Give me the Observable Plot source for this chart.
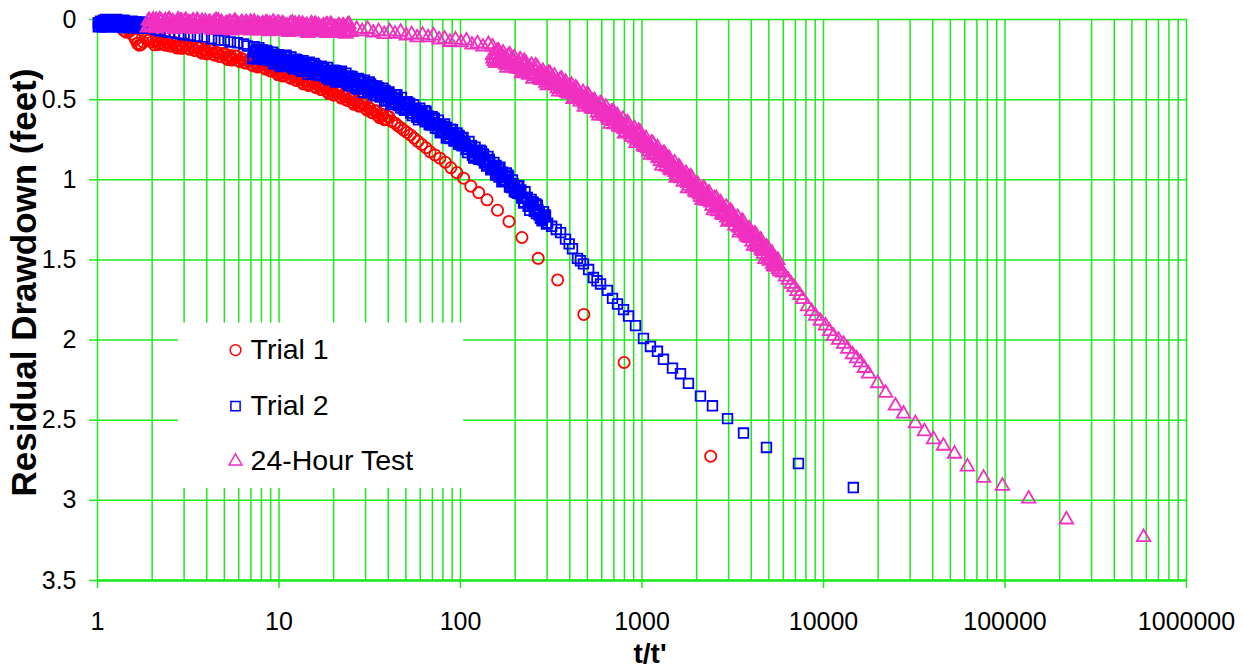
<!DOCTYPE html>
<html><head><meta charset="utf-8">
<script src="https://cdn.jsdelivr.net/npm/d3@7"></script>
<script src="https://cdn.jsdelivr.net/npm/@observablehq/plot@0.6"></script>
<style>body{margin:0;background:#fff}</style>
</head><body><div id="chart"></div>
<script>
// Trial 1: [t/t', residual drawdown (ft)]
const trial1 = [
[1.4,0.07],[1.45,0.08],[1.5,0.075],[1.55,0.09],[1.6,0.11],[1.62,0.125],[1.66,0.15],[1.7,0.16],[1.74,0.155],[1.78,0.14],[1.85,0.12],[1.9,0.13],[1.95,0.12],[2.0,0.14],
[2.06,0.158],[2.13,0.128],[2.2,0.148],[2.28,0.127],[2.36,0.16],[2.45,0.145],[2.55,0.165],[2.65,0.142],[2.75,0.178],[2.86,0.152],[2.97,0.173],[3.1,0.153],[3.22,0.186],[3.35,0.172],[3.48,0.193],[3.62,0.172],[3.77,0.21],[3.92,0.185],[4.08,0.208],[4.25,0.189],[4.42,0.223],[4.6,0.21],[4.8,0.231],[5.0,0.211],[5.2,0.249],[5.4,0.224],[5.6,0.246],[5.85,0.228],[6.1,0.263],[6.35,0.25],[6.6,0.271],[6.9,0.252],[7.2,0.29],[7.5,0.266],[7.8,0.29],[8.1,0.272],[8.45,0.31],[8.8,0.299],[9.15,0.322],[9.5,0.304],[9.9,0.345],[10.3,0.322],[10.7,0.347],[11.2,0.331],[11.6,0.367],[12.1,0.357],[12.6,0.38],[13.1,0.362],[13.6,0.402],[14.2,0.38],[14.8,0.405],[15.4,0.388],[16,0.425],[16.7,0.415],[17.4,0.438],[18.1,0.421],[18.8,0.462],[19.6,0.44],[20.4,0.467],[21.2,0.451],[22.1,0.49],[23,0.48],[23.9,0.504],[24.9,0.488],[25.9,0.529],[27,0.508],[28.1,0.537],[29.3,0.524],[30.5,0.564],[31.7,0.556],[33,0.583],[34.4,0.569],[35.8,0.612],[37.3,0.593],[38.8,0.621],[40.4,0.607],
[2.095,0.136],[2.165,0.156],[2.24,0.129],[2.32,0.153],[2.405,0.14],[2.5,0.165],[2.6,0.148],[2.7,0.169],[2.805,0.158],[2.915,0.181],[3.035,0.154],[3.16,0.179],[3.285,0.166],[3.415,0.193],[3.55,0.177],[3.695,0.2],[3.845,0.191],[4.0,0.215],[4.165,0.19],[4.335,0.215],[4.51,0.204],[4.7,0.231],[4.9,0.216],[5.1,0.239],[5.3,0.23],[5.5,0.253],[5.72,0.228],[5.97,0.255],[6.22,0.244],[6.47,0.271],[6.75,0.256],[7.05,0.28],[7.35,0.271],[7.65,0.296],[7.95,0.272],[8.27,0.3],[8.62,0.292],[8.97,0.321],[9.32,0.308],[9.7,0.333],[10.1,0.327],[10.5,0.353],[10.95,0.33],[11.4,0.358],[11.85,0.349],[12.35,0.379],[12.85,0.366],[13.35,0.391],[13.9,0.384],[14.5,0.411],[15.1,0.388],[15.7,0.416],[16.35,0.407],[17.05,0.437],[17.75,0.424],[18.45,0.45],[19.2,0.444],[20,0.472],[20.8,0.45],[21.65,0.48],[22.55,0.472],[23.45,0.502],[24.4,0.491],[25.4,0.517],[26.45,0.512],[27.55,0.541],[28.7,0.522],[29.9,0.553],[31.1,0.547],[32.35,0.58],[33.7,0.571],[35.1,0.599],[36.55,0.596],[38.05,0.625],[39.6,0.605],
[41.8,0.635],[43.4,0.645],[45,0.66],[46.8,0.675],[48.7,0.69],[50.7,0.705],[53,0.72],[55.5,0.74],[58.2,0.76],[61.2,0.78],[64.5,0.8],[68,0.825],[72.3,0.845],[77,0.865],[82.5,0.89],[88.5,0.925],[95.5,0.955],[104,0.99],[114,1.04],[126,1.08],[140,1.125],[160,1.19],[185,1.26],[218,1.36],[268,1.49],[343,1.625],[478,1.84],[797,2.14],[2390,2.725]
];

// Trial 2
const trial2 = [
[1.01,0.02],[1.02,0.04],[1.04,0.01],[1.06,0.03],[1.08,0.005],[1.1,0.045],[1.12,0.02],[1.15,0.035],[1.18,0.01],[1.2,0.04],[1.23,0.02],[1.26,0.045],[1.29,0.015],[1.32,0.035],[1.35,0.025],[1.38,0.05],[1.42,0.02],[1.45,0.04],[1.49,0.03],[1.53,0.05],[1.57,0.025],[1.61,0.045],[1.65,0.035],[1.7,0.05],[1.75,0.03],[1.8,0.055],[1.85,0.04],[1.9,0.055],
[1.01,0.045],[1.03,0.025],[1.05,0.045],[1.07,0.015],[1.09,0.035],[1.11,0.0],[1.135,0.03],[1.165,0.045],[1.19,0.025],[1.215,0.005],[1.245,0.03],[1.275,0.0],[1.305,0.045],[1.335,0.01],[1.365,0.04],[1.4,0.005],[1.435,0.05],[1.47,0.015],[1.51,0.04],[1.55,0.01],[1.59,0.05],[1.63,0.015],[1.675,0.05],[1.725,0.015],[1.775,0.04],[1.825,0.02],[1.875,0.045],
[2.0,0.05],[2.1,0.065],[2.2,0.07],[2.35,0.075],[2.5,0.08],[2.65,0.085],[2.8,0.09],[3.0,0.095],
[3.25,0.1],[3.55,0.105],[3.88,0.11],[4.25,0.12],[4.64,0.128],[5.0,0.13],[5.4,0.14],[5.9,0.145],[6.4,0.153],[6.7,0.165],
[7.2,0.235],[7.5,0.19],[7.8,0.226],[8.1,0.19],[8.4,0.245],[8.7,0.22],[9.1,0.251],[9.4,0.216],[9.8,0.277],[10.2,0.233],[10.6,0.268],[11,0.232],[11.5,0.288],[11.9,0.263],[12.4,0.293],[12.9,0.259],[13.4,0.319],[13.9,0.275],[14.5,0.311],[15.1,0.278],[15.7,0.334],[16.3,0.309],[16.9,0.338],[17.6,0.304],[18.3,0.364],[19,0.319],[19.8,0.354],[20.6,0.32],[21.4,0.377],[22.2,0.353],[23.1,0.385],[24,0.352],[25,0.414],[26,0.372],[27,0.409],[28.1,0.377],[29.2,0.434],[30.4,0.412],[31.6,0.445],[32.8,0.413],[34.1,0.476],[35.5,0.435],[36.9,0.473],[38.4,0.442],[39.9,0.5],[41.5,0.481],[43.2,0.516],[44.9,0.486],[46.7,0.551],[48.6,0.512],[50.5,0.552],[52.5,0.523],[54.6,0.584],[56.8,0.565],[59,0.601],[61.4,0.572],[63.9,0.639],[66.4,0.601],[69,0.644],[71.8,0.617],[74.7,0.68],[77.7,0.662],[80.8,0.701],[84,0.674],[87.4,0.743],[90.9,0.707],[94.5,0.75],[98.3,0.724],[102,0.788],[106,0.771],[110,0.81],[115,0.787],[119,0.855],[124,0.819],[129,0.865],[134,0.84],[140,0.909],[145,0.893],[151,0.935],[157,0.911],[163,0.983],[170,0.953],[177,1.003],[184,0.981],[191,1.049],[199,1.039],[207,1.084],[215,1.063],[224,1.14],[233,1.11],[242,1.161],[252,1.141],[262,1.211],[272,1.201],[283,1.246],[294,1.225],
[7.35,0.203],[7.65,0.238],[7.95,0.193],[8.25,0.228],[8.55,0.213],[8.9,0.253],[9.25,0.229],[9.6,0.256],[10,0.245],[10.4,0.281],[10.8,0.235],[11.25,0.27],[11.7,0.256],[12.15,0.296],[12.65,0.271],[13.15,0.299],[13.65,0.287],[14.2,0.323],[14.8,0.28],[15.4,0.316],[16,0.302],[16.6,0.341],[17.25,0.316],[17.95,0.344],[18.65,0.332],[19.4,0.367],[20.2,0.322],[21,0.359],[21.8,0.345],[22.65,0.387],[23.55,0.364],[24.5,0.393],[25.5,0.383],[26.5,0.421],[27.55,0.378],[28.65,0.416],[29.8,0.403],[31,0.446],[32.2,0.424],[33.45,0.454],[34.8,0.446],[36.2,0.484],[37.65,0.443],[39.15,0.481],[40.7,0.471],[42.35,0.516],[44.05,0.496],[45.8,0.528],[47.65,0.522],[49.55,0.562],[51.5,0.523],[53.55,0.564],[55.7,0.555],[57.9,0.601],[60.2,0.582],[62.65,0.615],[65.15,0.61],[67.7,0.653],[70.4,0.616],[73.25,0.659],[76.2,0.651],[79.25,0.699],[82.4,0.683],[85.7,0.718],[89.15,0.715],[92.7,0.759],[96.4,0.722],[100.1,0.766],[104,0.76],[108,0.808],[112.5,0.794],[117,0.831],[121.5,0.827],[126.5,0.872],[131.5,0.838],[137,0.885],[142.5,0.881],[148,0.932],[154,0.918],[160,0.957],[166.5,0.958],[173.5,1.008],[180.5,0.977],[187.5,1.025],[195,1.024],[203,1.079],[211,1.069],[219.5,1.111],[228.5,1.115],[237.5,1.166],[247,1.136],[257,1.186],[267,1.186],[277.5,1.241],[288.5,1.231],
[7.29,0.17],[7.59,0.245],[7.9,0.188],[8.2,0.25],[8.5,0.193],[8.8,0.256],[9.21,0.204],[9.51,0.276],[9.92,0.219],[10.32,0.283],[10.73,0.226],[11.13,0.288],[11.64,0.233],[12.04,0.308],[12.55,0.25],[13.05,0.314],[13.56,0.257],[14.07,0.321],[14.67,0.266],[15.28,0.343],[15.89,0.286],[16.5,0.349],[17.1,0.291],[17.81,0.355],[18.52,0.299],[19.23,0.374],[20.04,0.316],[20.85,0.38],[21.66,0.325],[22.47,0.389],[23.38,0.335],[24.29,0.412],[25.3,0.356],[26.31,0.422],[27.32,0.367],[28.44,0.433],[29.55,0.379],[30.76,0.457],[31.98,0.402],[33.19,0.468],[34.51,0.414],[35.93,0.481],[37.34,0.428],[38.86,0.507],[40.38,0.452],[42,0.521],[43.72,0.469],[45.44,0.537],[47.26,0.486],[49.18,0.567],[51.11,0.514],[53.13,0.583],[55.26,0.532],[57.48,0.61],[59.71,0.554],[62.14,0.623],[64.67,0.574],[67.2,0.656],[69.83,0.606],[72.66,0.677],[75.6,0.628],[78.63,0.698],[81.77,0.651],[85,0.734],[88.45,0.685],[91.99,0.757],[95.63,0.708],[99.48,0.78],[103.2,0.736],[107.3,0.811],[111.3,0.76],[116.4,0.847],[120.4,0.797],[125.5,0.869],[130.5,0.823],[135.6,0.896],[141.7,0.854],[146.7,0.938],[152.8,0.892],[158.9,0.966],[165,0.921],[172,0.999],[179,0.958],[186.2,1.046],[193.3,1.001],[201.4,1.075],[209.5,1.037],[217.6,1.114],[226.7,1.075],[235.8,1.165],[244.9,1.123],[255,1.197],[265.1,1.159],[275.3,1.237],[286.4,1.199],[297.5,1.276],
[7.16,0.245],[7.46,0.202],[7.75,0.176],[8.05,0.228],[8.35,0.25],[8.65,0.2],[9.05,0.236],[9.34,0.276],[9.74,0.227],[10.14,0.293],[10.54,0.25],[10.93,0.222],[11.43,0.276],[11.83,0.298],[12.33,0.248],[12.82,0.284],[13.32,0.324],[13.82,0.275],[14.41,0.341],[15.01,0.3],[15.6,0.274],[16.2,0.327],[16.8,0.348],[17.49,0.299],[18.19,0.334],[18.89,0.374],[19.68,0.324],[20.48,0.39],[21.27,0.349],[22.07,0.323],[22.96,0.378],[23.86,0.402],[24.85,0.354],[25.84,0.392],[26.84,0.434],[27.93,0.387],[29.02,0.454],[30.22,0.414],[31.41,0.39],[32.6,0.446],[33.9,0.471],[35.29,0.425],[36.68,0.463],[38.17,0.507],[39.66,0.46],[41.25,0.531],[42.94,0.493],[44.63,0.471],[46.42,0.529],[48.31,0.557],[50.2,0.512],[52.19,0.553],[54.27,0.599],[56.46,0.555],[58.65,0.626],[61.03,0.589],[63.52,0.569],[66,0.629],[68.59,0.659],[71.37,0.617],[74.25,0.66],[77.23,0.707],[80.32,0.666],[83.5,0.739],[86.88,0.705],[90.35,0.687],[93.93,0.748],[97.71,0.779],[101.4,0.738],[105.4,0.781],[109.3,0.83],[114.3,0.792],[118.3,0.865],[123.3,0.831],[128.2,0.815],[133.2,0.878],[139.2,0.914],[144.1,0.873],[150.1,0.92],[156.1,0.971],[162,0.933],[169,1.013],[176,0.985],[182.9,0.971],[189.9,1.037],[197.8,1.074],[205.8,1.039],[213.7,1.088],[222.7,1.145],[231.6,1.11],[240.5,1.191],[250.5,1.163],[260.4,1.151],[270.4,1.219],[281.3,1.256],[292.2,1.22],
[302,1.27],[318,1.29],[337,1.31],[356,1.33],[379,1.37],[397,1.4],[414,1.43],[441,1.49],[458,1.505],[476,1.525],[508,1.56],[540,1.61],[565,1.63],[591,1.65],[645,1.69],[688,1.74],[733,1.775],[791,1.81],[843,1.85],[921,1.91],[1019,1.99],[1113,2.04],[1217,2.07],[1313,2.12],[1472,2.175],[1630,2.21],[1803,2.27],[2100,2.35],[2445,2.41],[2960,2.49],[3625,2.58],[4850,2.67],[7280,2.77],[14600,2.92]
];

// 24-Hour Test
const test24 = [
[1.88,0.051],[1.93,0.006],[1.98,0.036],[2.03,0.001],[2.08,0.044],[2.13,0.018],[2.19,0.046],[2.25,0.011],[2.31,0.051],[2.37,0.006],[2.43,0.036],[2.49,0.001],[2.56,0.048],[2.63,0.022],[2.7,0.05],[2.77,0.015],[2.84,0.055],[2.91,0.01],[2.99,0.04],[3.07,0.005],[3.15,0.048],[3.23,0.022],[3.31,0.05],[3.4,0.015],[3.49,0.055],[3.58,0.015],[3.67,0.045],[3.77,0.01],[3.87,0.053],[3.97,0.027],[4.07,0.055],[4.18,0.02],[4.29,0.06],[4.4,0.015],[4.51,0.045],[4.63,0.01],[4.75,0.053],[4.87,0.027],[5.0,0.06],[5.13,0.025],[5.26,0.065],[5.4,0.02],[5.54,0.05],[5.68,0.015],[5.83,0.058],[5.98,0.032],[6.14,0.06],[6.3,0.025],[6.46,0.065],[6.63,0.02],[6.8,0.05],[6.98,0.015],[7.16,0.063],[7.35,0.037],[7.54,0.065],[7.73,0.03],[7.93,0.07],[8.14,0.025],[8.35,0.055],[8.57,0.02],[8.79,0.063],[9.02,0.037],[9.25,0.065],[9.49,0.03],[9.74,0.07],[9.99,0.025],[10.25,0.06],[10.5,0.025],[10.8,0.068],[11.1,0.042],[11.4,0.07],[11.7,0.035],[12,0.075],[12.3,0.03],[12.6,0.06],[12.9,0.025],[13.3,0.068],[13.6,0.042],[14,0.075],[14.3,0.04],[14.7,0.08],[15.1,0.035],[15.5,0.065],[15.9,0.03],[16.3,0.073],[16.7,0.047],[17.1,0.075],[17.6,0.04],[18,0.08],[18.5,0.035],[18.9,0.065],[19.5,0.035],[20,0.078],[20.5,0.052],[21,0.08],[21.6,0.045],[22.1,0.085],[22.7,0.04],[23.3,0.07],[23.9,0.035],[24.5,0.078],
[1.905,0.008],[1.955,0.046],[2.005,0.016],[2.055,0.041],[2.105,0.004],[2.16,0.034],[2.22,0.008],[2.28,0.046],[2.34,0.016],[2.4,0.041],[2.46,0.004],[2.525,0.038],[2.595,0.012],[2.665,0.05],[2.735,0.02],[2.805,0.045],[2.875,0.008],[2.95,0.038],[3.03,0.012],[3.11,0.05],[3.19,0.02],[3.27,0.045],[3.355,0.008],[3.445,0.038],[3.535,0.017],[3.625,0.055],[3.72,0.025],[3.82,0.05],[3.92,0.013],[4.02,0.043],[4.125,0.017],[4.235,0.055],[4.345,0.025],[4.455,0.05],[4.57,0.013],[4.69,0.043],[4.81,0.017],[4.935,0.055],[5.065,0.03],[5.195,0.055],[5.33,0.018],[5.47,0.048],[5.61,0.022],[5.755,0.06],[5.905,0.03],[6.06,0.055],[6.22,0.018],[6.38,0.048],[6.545,0.022],[6.715,0.06],[6.89,0.03],[7.07,0.06],[7.255,0.023],[7.445,0.053],[7.635,0.027],[7.83,0.065],[8.035,0.035],[8.245,0.06],[8.46,0.023],[8.68,0.053],[8.905,0.027],[9.135,0.065],[9.37,0.035],[9.615,0.06],[9.865,0.023],[10.12,0.058],[10.37,0.032],[10.65,0.07],[10.95,0.04],[11.25,0.065],[11.55,0.028],[11.85,0.058],[12.15,0.032],[12.45,0.07],[12.75,0.04],[13.1,0.065],[13.45,0.028],[13.8,0.058],[14.15,0.037],[14.5,0.075],[14.9,0.045],[15.3,0.07],[15.7,0.033],[16.1,0.063],[16.5,0.037],[16.9,0.075],[17.35,0.045],[17.8,0.07],[18.25,0.033],[18.7,0.063],[19.2,0.042],[19.75,0.08],[20.25,0.05],[20.75,0.075],[21.3,0.038],[21.85,0.068],[22.4,0.042],[23,0.08],[23.6,0.05],[24.2,0.075],
[1.92,0.036],[2.0,0.016],[2.1,0.056],[2.2,0.0],[2.3,0.026],[2.41,0.036],[2.53,0.02],[2.65,0.06],[2.78,0.0],[2.92,0.03],[3.06,0.04],[3.21,0.02],[3.37,0.06],[3.54,0.005],[3.71,0.035],[3.9,0.045],[4.09,0.025],[4.29,0.065],[4.5,0.005],[4.72,0.035],[4.96,0.045],[5.2,0.03],[5.46,0.07],[5.73,0.01],[6.02,0.04],[6.32,0.05],[6.63,0.03],[6.96,0.07],[7.3,0.015],[7.66,0.045],[8.04,0.055],[8.44,0.035],[8.86,0.075],[9.3,0.015],[9.76,0.045],[10.24,0.06],[10.75,0.04],[11.28,0.08],[11.84,0.02],[12.43,0.05],[13.05,0.06],[13.7,0.04],[14.38,0.085],[15.1,0.025],[15.85,0.055],[16.64,0.065],[17.47,0.045],[18.34,0.085],[19.25,0.03],[20.21,0.06],[21.22,0.07],[22.28,0.05],[23.39,0.09],[24.3,0.03],
[25,0.077],[26.8,0.059],[28.7,0.074],[30.8,0.06],[33,0.083],[35.4,0.074],[38,0.092],[40.7,0.075],[43.6,0.09],[46.8,0.078],[50.2,0.101],[53.8,0.093],[57.7,0.112],[61.8,0.096],[66.3,0.112],[71,0.101],[76.2,0.126],[81.7,0.12],[87.5,0.141],[93.8,0.126],[100.6,0.144],[107.8,0.133],[115.6,0.158],[124,0.15],[132.9,0.17],[142.5,0.155],[150,0.17],
[151,0.244],[157,0.216],[163,0.246],[169,0.224],[175,0.263],[181,0.251],[188,0.28],[195,0.261],[202,0.298],[210,0.271],[218,0.302],[226,0.282],[234,0.322],[243,0.312],[252,0.342],[261,0.324],[271,0.363],[281,0.337],[291,0.368],[302,0.349],[313,0.39],[325,0.381],[337,0.413],[349,0.396],[362,0.435],[375,0.409],[389,0.442],[404,0.424],[419,0.467],[434,0.461],[450,0.493],[467,0.478],[484,0.52],[502,0.496],[521,0.531],[540,0.514],[560,0.558],[581,0.552],[602,0.586],[625,0.572],[648,0.615],[672,0.592],[697,0.627],[722,0.612],[749,0.656],[777,0.651],[806,0.686],[836,0.675],[867,0.719],[899,0.699],[932,0.735],[966,0.721],[1002,0.768],[1039,0.766],[1078,0.804],[1118,0.793],[1159,0.839],[1202,0.82],[1247,0.859],[1293,0.847],[1341,0.894],[1390,0.892],[1442,0.93],[1495,0.92],[1551,0.966],[1608,0.946],[1668,0.985],[1729,0.973],[1793,1.021],[1860,1.019],[1929,1.056],[2000,1.046],[2074,1.091],[2151,1.071],[2231,1.11],[2313,1.096],[2399,1.143],[2488,1.14],[2580,1.177],[2675,1.166],[2774,1.211],[2877,1.191],[2984,1.229],[3094,1.216],[3209,1.263],[3328,1.262],[3451,1.301],[3579,1.292],[3711,1.337],[3849,1.319],[3991,1.359],[4139,1.351],[4292,1.403],[4451,1.404],[4616,1.446],[4787,1.44],[4964,1.49],[5148,1.477],[5339,1.522],[5536,1.517],[5741,1.572],
[154,0.223],[160,0.257],[166,0.221],[172,0.258],[178,0.239],[184.5,0.279],[191.5,0.256],[198.5,0.289],[206,0.277],[214,0.312],[222,0.278],[230,0.316],[238.5,0.299],[247.5,0.34],[256.5,0.318],[266,0.353],[276,0.343],[286,0.378],[296.5,0.345],[307.5,0.384],[319,0.368],[331,0.41],[343,0.39],[355.5,0.425],[368.5,0.415],[382,0.451],[396.5,0.419],[411.5,0.46],[426.5,0.446],[442,0.49],[458.5,0.471],[475.5,0.508],[493,0.501],[511.5,0.539],[530.5,0.509],[550,0.55],[570.5,0.537],[591.5,0.582],[613.5,0.564],[636.5,0.603],[660,0.596],[684.5,0.635],[709.5,0.606],[735.5,0.648],[763,0.636],[791.5,0.682],[821,0.666],[851.5,0.706],[883,0.702],[915.5,0.743],[949,0.714],[984,0.759],[1020,0.749],[1058,0.798],[1098,0.784],[1138,0.825],[1180,0.822],[1224,0.865],[1270,0.839],[1317,0.885],[1365,0.875],[1416,0.924],[1468,0.91],[1523,0.952],[1579,0.949],[1638,0.991],[1698,0.965],[1761,1.011],[1826,1.002],[1894,1.051],[1964,1.036],[2037,1.078],[2112,1.074],[2191,1.116],[2272,1.089],[2356,1.134],[2443,1.124],[2534,1.172],[2627,1.157],[2724,1.198],[2825,1.194],[2930,1.236],[3039,1.209],[3151,1.254],[3268,1.245],[3389,1.295],[3515,1.282],[3645,1.324],[3780,1.321],[3920,1.365],[4065,1.341],[4215,1.391],[4371,1.386],[4533,1.438],[4701,1.428],[4875,1.474],[5056,1.476],[5243,1.525],[5437,1.506],[5638,1.559],
[153,0.26],[159,0.197],[165.5,0.268],[171.5,0.208],[177.5,0.284],[183.5,0.227],[190.5,0.3],[197.5,0.237],[204.5,0.308],[213,0.25],[221,0.327],[229,0.272],[237,0.346],[246,0.284],[255,0.356],[264.5,0.298],[274.5,0.376],[284.5,0.322],[295,0.396],[306,0.335],[317,0.408],[329,0.351],[341,0.43],[353.5,0.376],[366.5,0.451],[379.5,0.39],[394,0.464],[409,0.408],[424,0.488],[439.5,0.437],[455.5,0.513],[473,0.454],[490,0.53],[508,0.475],[527,0.556],[546.5,0.504],[567,0.582],[588,0.524],[609,0.6],[632.5,0.546],[656,0.628],[680,0.577],[705.5,0.655],[731,0.598],[758,0.674],[786,0.621],[816,0.703],[846,0.655],[877.5,0.735],[910,0.68],[943,0.757],[978,0.705],[1014,0.789],[1052,0.742],[1091,0.824],[1131,0.769],[1173,0.849],[1217,0.799],[1262,0.884],[1309,0.837],[1357,0.918],[1407,0.864],[1459,0.944],[1513,0.894],[1570,0.979],[1627,0.931],[1688,1.013],[1750,0.959],[1815,1.039],[1882,0.989],[1952,1.073],[2024,1.026],[2099,1.107],[2177,1.052],[2258,1.132],[2341,1.08],[2428,1.164],[2518,1.116],[2611,1.197],[2707,1.142],[2807,1.221],[2912,1.17],[3020,1.254],[3131,1.206],[3248,1.287],[3368,1.234],[3493,1.315],[3622,1.266],[3756,1.35],[3895,1.304],[4039,1.387],[4189,1.337],[4344,1.421],[4505,1.374],[4672,1.463],[4845,1.42],[5024,1.506],[5210,1.458],[5403,1.544],[5603,1.501],
[150.1,0.224],[156.1,0.273],[162,0.196],[168,0.249],[174,0.246],[179.9,0.302],[186.9,0.219],[193.8,0.271],[200.8,0.303],[208.7,0.286],[216.7,0.336],[224.6,0.26],[232.6,0.315],[241.5,0.313],[250.5,0.371],[259.4,0.289],[269.4,0.343],[279.3,0.377],[289.3,0.36],[300.2,0.411],[311.1,0.336],[323,0.392],[335,0.392],[346.9,0.451],[359.8,0.37],[372.8,0.424],[386.7,0.459],[401.6,0.444],[416.5,0.497],[431.4,0.425],[447.3,0.482],[464.2,0.483],[481.1,0.545],[499,0.466],[517.9,0.523],[536.8,0.559],[556.6,0.546],[577.5,0.6],[598.4,0.528],[621.3,0.587],[644.1,0.59],[668,0.652],[692.8,0.574],[717.7,0.632],[744.5,0.669],[772.3,0.657],[801.2,0.712],[831,0.643],[861.8,0.704],[893.6,0.709],[926.4,0.772],[960.2,0.696],[996,0.756],[1033,0.797],[1072,0.788],[1111,0.845],[1152,0.777],[1195,0.84],[1240,0.846],[1285,0.912],[1333,0.837],[1382,0.898],[1433,0.939],[1486,0.93],[1542,0.988],[1598,0.919],[1658,0.982],[1719,0.988],[1782,1.054],[1849,0.98],[1917,1.04],[1988,1.081],[2062,1.071],[2138,1.128],[2218,1.06],[2299,1.121],[2385,1.126],[2473,1.191],[2565,1.116],[2659,1.176],[2757,1.216],[2860,1.206],[2966,1.263],[3075,1.194],[3190,1.256],[3308,1.263],[3430,1.33],[3558,1.257],[3689,1.317],[3826,1.359],[3967,1.351],[4114,1.413],[4266,1.349],[4424,1.415],[4588,1.425],[4758,1.495],[4934,1.425],[5117,1.492],[5307,1.539],[5503,1.537],
[5950,1.58],[6170,1.605],[6400,1.625],[6640,1.65],[6880,1.67],[7130,1.695],[7400,1.72],[7680,1.745],[8170,1.79],[8600,1.82],[9040,1.85],[9600,1.88],[10260,1.91],[10800,1.945],[11350,1.975],[12100,2.0],[12900,2.025],[13600,2.055],[14450,2.09],[15200,2.115],[16000,2.14],[16800,2.175],[17700,2.21],[19900,2.27],[22000,2.33],[24900,2.41],[27600,2.46],[32100,2.52],[36000,2.57],[40400,2.62],[45800,2.66],[52700,2.71],[62100,2.79],[76200,2.86],[96800,2.91],[135000,2.99],[218000,3.12],[580000,3.23]
];

const xTicks = [1, 10, 100, 1000, 10000, 100000, 1000000];
const xTickLabels = ["1", "10", "100", "1000", "10000", "100000", "1000000"];
const yTicks = [0, 0.5, 1, 1.5, 2, 2.5, 3, 3.5];
const yTickLabels = ["0", "0.5", "1", "1.5", "2", "2.5", "3", "3.5"];
const minorMultipliers = [1, 2, 3, 4, 5, 6, 7, 8, 9];
const seriesNames = ["Trial 1", "Trial 2", "24-Hour Test"];
const seriesColors = ["#ff0000", "#0000ff", "#f030c0"];
const seriesSymbols = ["circle", "square", "triangle"];
const seriesR = [5.6, 5.4, 5.0];
const xTitle = "t/t'";
const yTitle = "Residual Drawdown (feet)";

// legend placement (in data units of the plot)
const legendBox = {x1: 2.79, x2: 104, y1: 1.894, y2: 2.925};
const legendMarkerX = 5.76;
const legendTextX = 6.97;
const legendRowY = [2.0625, 2.4125, 2.756];
const legendR = [5.4, 5.2, 4.8];

const gridX = xTicks.flatMap(d => d === 1e6 ? [d] : minorMultipliers.map(m => m * d));
const green = "#1ee81e";
const font = "'Liberation Sans', Arial, Helvetica, sans-serif";
const series = [trial1, trial2, test24];

const chart = Plot.plot({
  width: 1243,
  height: 669,
  marginLeft: 97,
  marginRight: 57,
  marginTop: 19,
  marginBottom: 89,
  style: {fontFamily: font, background: "white", overflow: "visible"},
  x: {type: "log", domain: [1, 1e6]},
  y: {domain: [0, 3.5], reverse: true},
  marks: [
    Plot.ruleX(gridX, {stroke: green, strokeWidth: 1.5}),
    Plot.ruleY(yTicks, {stroke: green, strokeWidth: 1.5}),
    Plot.ruleY([3.5], {stroke: green, strokeWidth: 2.5}),
    Plot.rect([legendBox], {x1: "x1", x2: "x2", y1: "y1", y2: "y2", fill: "white"}),
    Plot.axisX({ticks: xTicks, tickFormat: d => xTickLabels[xTicks.indexOf(d)], tickSize: 8, tickPadding: 24,
      stroke: green, strokeWidth: 1.5, fill: "black", fontSize: 25, label: null}),
    Plot.axisY({ticks: yTicks, tickFormat: d => yTickLabels[yTicks.indexOf(d)], tickSize: 8, tickPadding: 13,
      stroke: green, strokeWidth: 1.5, fill: "black", fontSize: 25, label: null}),
    ...series.map((s, i) => Plot.dot(s, {x: d => d[0], y: d => d[1], symbol: seriesSymbols[i], r: seriesR[i],
      stroke: seriesColors[i], strokeWidth: 1.8, fill: "none"})),
    ...seriesNames.map((name, i) => Plot.dot([name], {x: () => legendMarkerX, y: () => legendRowY[i],
      symbol: seriesSymbols[i], r: legendR[i], stroke: seriesColors[i], strokeWidth: 1.5, fill: "none"})),
    Plot.text(seriesNames, {x: () => legendTextX, y: (d, i) => legendRowY[i], text: d => d, textAnchor: "start",
      lineAnchor: "middle", fontSize: 28.5, fill: "black"}),
    Plot.text([yTitle], {text: d => d, frameAnchor: "left", rotate: -90, dx: -73, dy: -17.5, textAnchor: "middle",
      lineAnchor: "middle", fontSize: 35, fontWeight: "bold", fill: "black"}),
    Plot.text([xTitle], {text: d => d, frameAnchor: "bottom", dx: 8, dy: 74, textAnchor: "middle",
      lineAnchor: "middle", fontSize: 28, fontWeight: "bold", fill: "black"})
  ]
});
document.getElementById("chart").appendChild(chart);
</script>
</body></html>
